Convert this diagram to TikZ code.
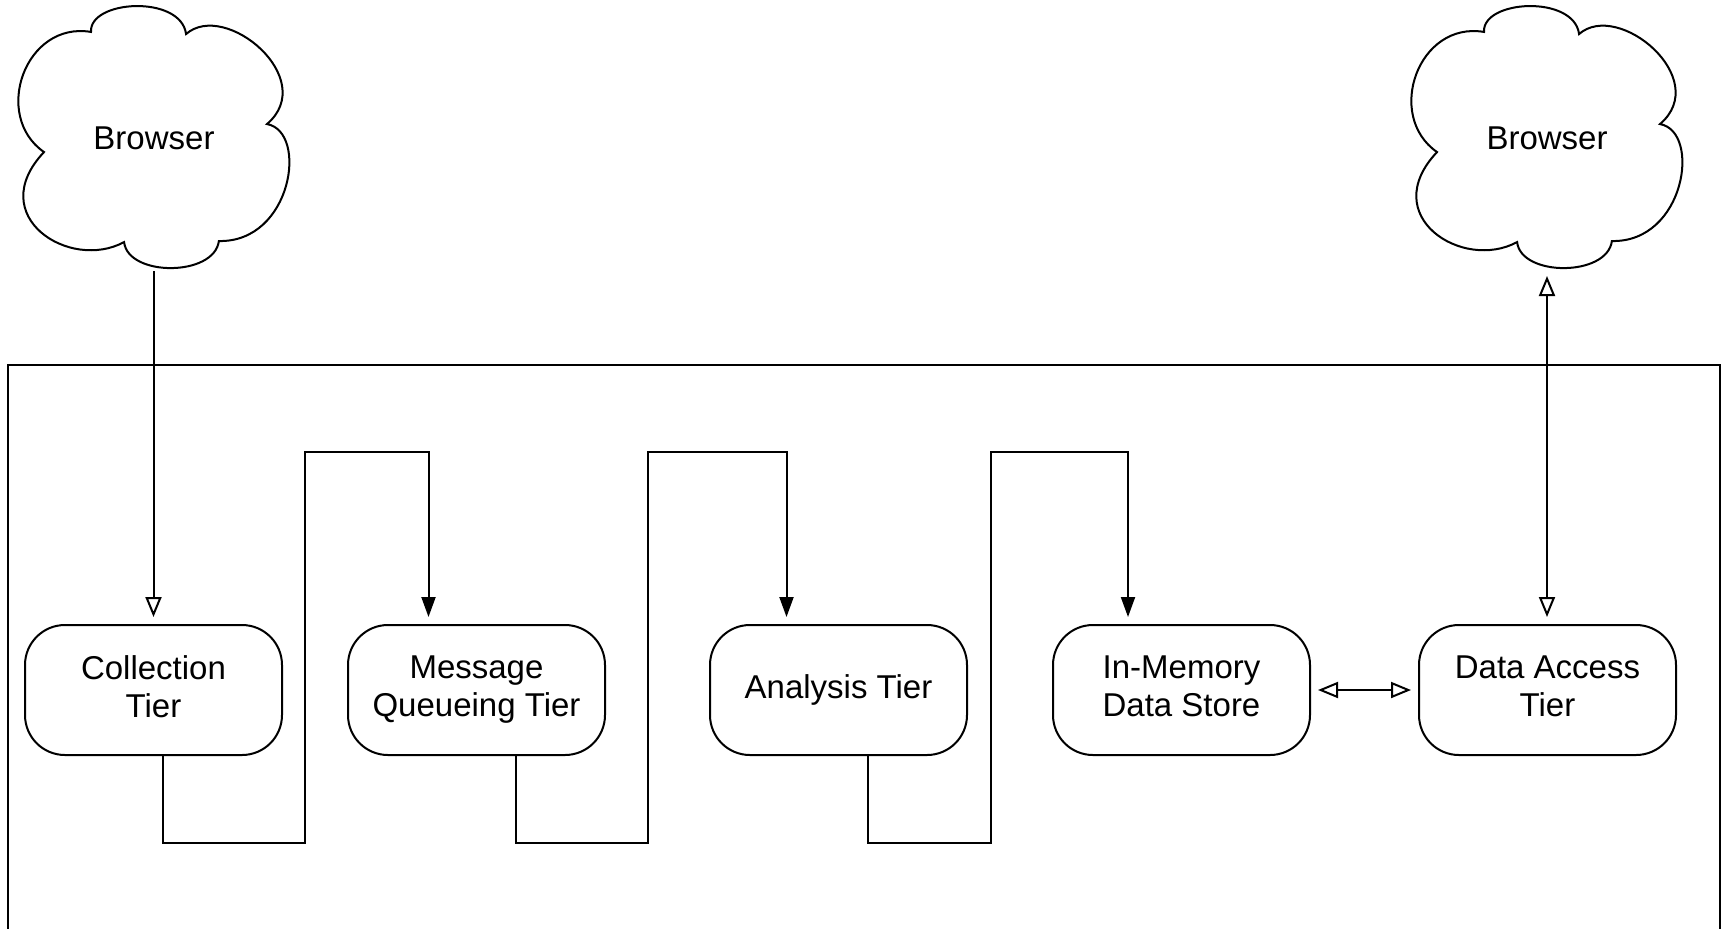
\documentclass[tikz,border=0pt]{standalone}
\usepackage{fontspec}
\setmainfont{Liberation Sans}
\usetikzlibrary{arrows.meta}

% cloud outline in unit coordinates (0..1 across, 0..1 down)
\newcommand{\cloudoutline}{%
  (0.277,0.102) .. controls (0.27,-0.02) and (0.60,-0.04) .. (0.619,0.110)
  .. controls (0.76,-0.02) and (1.10,0.28) .. (0.910,0.451)
  .. controls (1.06,0.48) and (1.00,0.90) .. (0.737,0.894)
  .. controls (0.72,1.03) and (0.41,1.03) .. (0.396,0.898)
  .. controls (0.20,1.01) and (-0.11,0.80) .. (0.108,0.557)
  .. controls (-0.08,0.42) and (0.04,0.06) .. (0.277,0.102) -- cycle}

\begin{document}
\begin{tikzpicture}[x=0.5pt,y=-0.5pt,line width=1pt,
  txt/.style={font=\fontsize{16.5pt}{19pt}\selectfont},
  tier/.style={txt,draw,rounded corners=20pt,minimum width=128.5pt,
    minimum height=65pt,align=center,inner sep=0pt},
  twoline/.style={tier,text depth=3.6pt},
  cloudbox/.style={txt,minimum width=139pt,minimum height=132pt,inner sep=0pt},
  flow/.style={-{Triangle[length=10pt,width=7pt]},shorten >=3.5pt},
  push/.style={-{Triangle[open,length=10pt,width=8pt]},shorten >=3.5pt},
  duplex/.style={{Triangle[open,length=10pt,width=8pt]}-{Triangle[open,length=10pt,width=8pt]},
    shorten <=3.5pt,shorten >=3.5pt}]

\useasboundingbox (0,0) rectangle (1729,928);

% container frame, open at the bottom
\draw (8,932) -- (8,365) -- (1720,365) -- (1720,932);

% browsers
\node[cloudbox] (b1) at (154,138) {Browser};
\node[cloudbox] (b2) at (1547,138) {Browser};
\begin{scope}[shift={(b1.north west)},x=139pt,y=-132pt]
  \draw \cloudoutline;
\end{scope}
\begin{scope}[shift={(b2.north west)},x=139pt,y=-132pt]
  \draw \cloudoutline;
\end{scope}

% tiers
\node[twoline] (coll) at (153.5,690) {Collection\\Tier};
\node[twoline] (mq)   at (476.5,690) {Message\\Queueing Tier};
\node[tier]    (ana)  at (838.5,690) {Analysis Tier};
\node[twoline] (mem)  at (1181.5,690) {In-Memory\\Data Store};
\node[twoline] (dacc) at (1547.5,690) {Data Access\\Tier};

% browser connections
\draw[push] (b1.south -| coll.north) -- (coll.north);
\draw[duplex,shorten <=2.5pt] (b2.south) -- (b2.south |- dacc.north);

% pipeline between tiers
\draw[flow] ([xshift=4.75pt]coll.south) -- ++(0,87) -| (305,452) -| ([xshift=-24pt]mq.north);
\draw[flow] ([xshift=19.75pt]mq.south) -- ++(0,87) -| (648,452) -| ([xshift=-26pt]ana.north);
\draw[flow] ([xshift=14.75pt]ana.south) -- ++(0,87) -| (991,452) -| ([xshift=-26.75pt]mem.north);

% store and access tier
\draw[duplex] (mem.east) -- (dacc.west);

\end{tikzpicture}
\end{document}
